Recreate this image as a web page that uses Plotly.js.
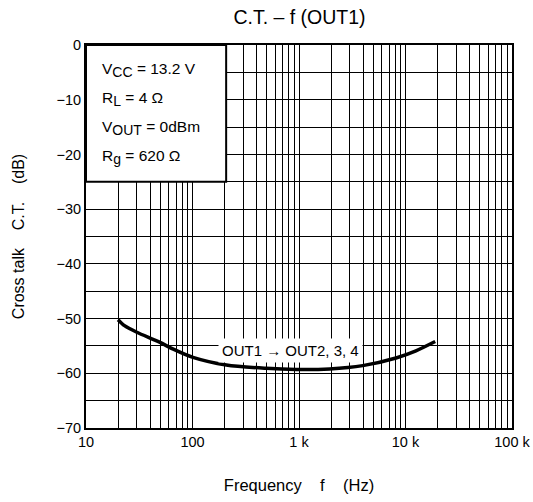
<!DOCTYPE html>
<html>
<head>
<meta charset="utf-8">
<script src="https://cdn.plot.ly/plotly-3.0.1.min.js"></script>
<style>html,body{margin:0;padding:0;background:#fff;}#chart{width:533px;height:502px;}</style>
</head>
<body>
<div id="chart"></div>
<script>
// Data
var freqHz = [20, 23, 30, 49, 66, 101, 208, 493, 942, 1932, 3966, 8145, 12530, 19000];
var crossTalkDb = [-50.2, -51.3, -52.5, -54.3, -55.6, -57.1, -58.5, -59.1, -59.3, -59.2, -58.6, -57.2, -55.9, -54.2];
var xTickVals = [10, 100, 1000, 10000, 100000];
var xTickText = ['10', '100', '1 k', '10 k', '100 k'];
var yTickVals = [-70, -60, -50, -40, -30, -20, -10, 0];
var conditionLines = [
  'V<sub><span style="font-size:14px">CC</span></sub> = 13.2 V',
  'R<sub><span style="font-size:14px">L</span></sub> = 4 Ω',
  'V<sub><span style="font-size:14px">OUT</span></sub> = 0dBm',
  'R<sub><span style="font-size:14px">g</span></sub> = 620 Ω'
];
var conditionY = [-4.6, -9.9, -15.2, -20.5];
var curveLabel = 'OUT1 → OUT2, 3, 4';
var curveLabelFreq = 832;
var curveLabelDb = -55.8;

// minor grid positions (2..9 per decade)
var minorVals = [];
for (var d = 10; d < 100000; d *= 10) {
  for (var m = 2; m <= 9; m++) minorVals.push(m * d);
}

var font = {family: 'Liberation Sans, Arial, sans-serif', color: '#000'};
function f(size) { return Object.assign({}, font, {size: size}); }

var trace = {
  x: freqHz, y: crossTalkDb, type: 'scatter', mode: 'lines',
  line: {color: '#000', width: 3.5, shape: 'spline', smoothing: 0.8},
  hoverinfo: 'skip', showlegend: false
};

var annotations = conditionLines.map(function (t, i) {
  return {text: t, xref: 'paper', x: 0.033, xanchor: 'left', yref: 'y', y: conditionY[i],
    yanchor: 'middle', showarrow: false, font: f(15.5)};
});
annotations.push({text: curveLabel, xref: 'x', x: Math.log10(curveLabelFreq), yref: 'y', y: curveLabelDb,
  showarrow: false, bgcolor: '#fff', borderpad: 3, font: f(15)});

var layout = {
  width: 533, height: 502,
  margin: {l: 86, r: 21, t: 45, b: 74},
  paper_bgcolor: '#fff', plot_bgcolor: '#fff',
  font: f(14),
  title: {text: 'C.T. – f (OUT1)', font: f(19.5), x: 0.562, xanchor: 'center', y: 0.965, yanchor: 'middle'},
  xaxis: {
    type: 'log', range: [1, 5], tickmode: 'array', tickvals: xTickVals, ticktext: xTickText,
    showgrid: true, gridcolor: '#000', gridwidth: 1,
    minor: {tickmode: 'array', tickvals: minorVals, showgrid: true, gridcolor: '#000', gridwidth: 1, ticks: ''},
    showline: true, linecolor: '#000', linewidth: 2, mirror: true, ticks: '', zeroline: false,
    tickfont: f(14.5),
    title: {text: 'Frequency    f    (Hz)', font: f(16.5), standoff: 30}
  },
  yaxis: {
    range: [-70, 0], tickmode: 'array', tickvals: yTickVals,
    showgrid: true, gridcolor: '#000', gridwidth: 1,
    minor: {dtick: 5, showgrid: true, gridcolor: '#000', gridwidth: 1, ticks: ''},
    showline: true, linecolor: '#000', linewidth: 2, mirror: true, ticks: '', zeroline: false,
    tickfont: f(14.5),
    title: {text: 'Cross talk    C.T.    (dB)', font: f(16), standoff: 28}
  },
  shapes: [{type: 'rect', xref: 'paper', x0: 0, x1: 0.329, yref: 'y', y0: -25, y1: 0,
    fillcolor: '#fff', line: {color: '#000', width: 2}, layer: 'above'}],
  annotations: annotations
};

Plotly.newPlot('chart', [trace], layout, {displayModeBar: false, staticPlot: true});
</script>
</body>
</html>
